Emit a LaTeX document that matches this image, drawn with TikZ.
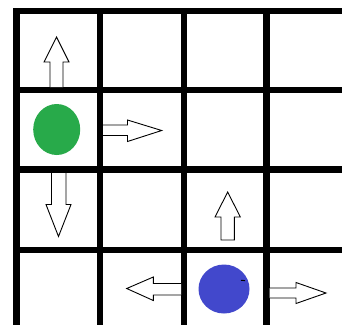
\documentclass[tikz,border=0pt]{standalone}
\usetikzlibrary{shapes.geometric}
\begin{document}
\begin{tikzpicture}[x=1pt,y=-1pt,
  gridline/.style={line width=6.2pt,black},
  blockarrow/.style={draw=black,line width=0.9pt,fill=white,line join=miter},
  tokengreen/.style={fill=tokgreen,draw=none},
  tokenblue/.style={fill=tokblue,draw=none}]
\definecolor{tokgreen}{RGB}{40,170,74}
\definecolor{tokblue}{RGB}{66,72,204}
\useasboundingbox (0,0) rectangle (342,325);
\fill[white] (0,0) rectangle (342,325);
% grid
\foreach \x in {16.5,100,184.3,266.4}
  \draw[gridline] (\x,8) -- (\x,325);
\foreach \y in {11,90.3,169.5,250.3}
  \draw[gridline] (13.4,\y) -- (342,\y);
% tokens
\node[tokengreen,ellipse,minimum width=47pt,minimum height=51pt,inner sep=0pt] (green) at (56.7,129.5) {};
\node[tokenblue,ellipse,minimum width=51pt,minimum height=49pt,inner sep=0pt] (blue) at (224,289) {};
\draw[line width=1pt] (241,280.3) -- (245,280.6);
% arrows
% up from green
\draw[blockarrow] (50,87) -- (50,62) -- (44,62) -- (56.5,37) -- (69,62) -- (63,62) -- (63,87);
% right from green
\draw[blockarrow] (103,125) -- (127.5,125) -- (127.5,120) -- (161.7,130.5) -- (127.5,141.5) -- (127.5,135.5) -- (103,135.5);
% down from green
\draw[blockarrow] (51.5,173) -- (51.5,204.5) -- (46,204.5) -- (58.5,236.5) -- (71,204.5) -- (66,204.5) -- (66,173);
% up from blue
\draw[blockarrow] (221,240) -- (221,217) -- (215,217) -- (227.7,192) -- (240.3,217) -- (234.3,217) -- (234.3,240) -- cycle;
% left from blue
\draw[blockarrow] (181,283.5) -- (153.3,283.5) -- (153.3,277) -- (126.7,288.5) -- (153.3,300.5) -- (153.3,295) -- (181,295);
% right from blue
\draw[blockarrow] (269.5,288) -- (296,288) -- (296,282.5) -- (326,293) -- (296,303.5) -- (296,298) -- (269.5,298);
\end{tikzpicture}
\end{document}
